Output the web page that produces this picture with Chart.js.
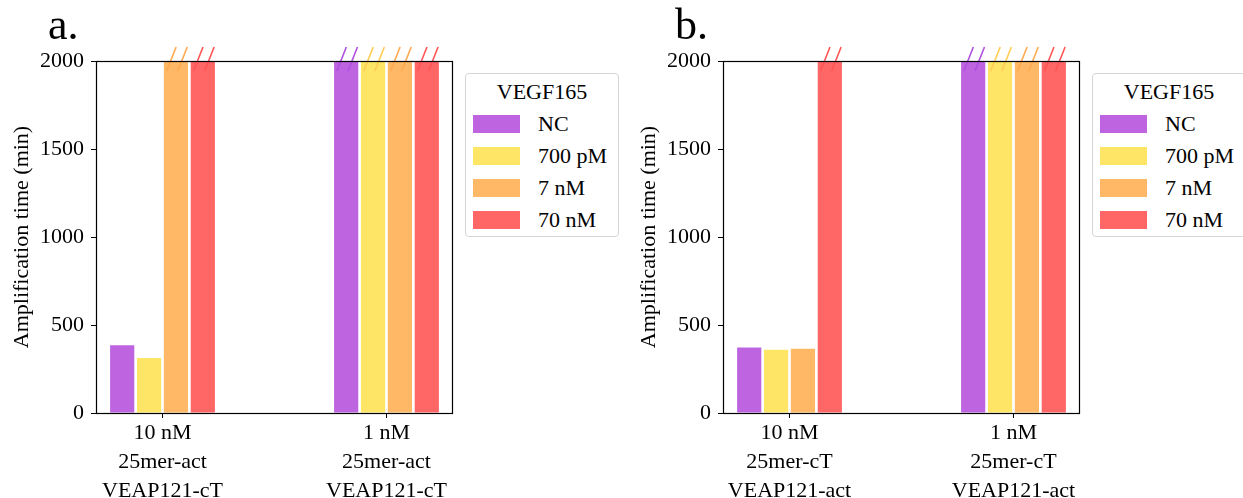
<!DOCTYPE html>
<html>
<head>
<meta charset="utf-8">
<script src="https://cdn.jsdelivr.net/npm/chart.js@4.4.1/dist/chart.umd.min.js"></script>
<style>
  body { margin: 0; background: #fff; width: 1243px; height: 498px; overflow: hidden; position: relative;
         font-family: "Liberation Serif", "DejaVu Serif", serif; color: #000; }
  .panel { position: absolute; top: 0; width: 470px; height: 498px; }
  .panel canvas { position: absolute; left: 0; top: 0; }
  .tag { position: absolute; left: 48px; top: 1px; font-size: 44px; line-height: 48px; }
  .legend { position: absolute; left: 465px; top: 73px; width: 152px; height: 162px;
            border: 1px solid #d6d6d6; border-radius: 4px; background: #fff; font-size: 22px; }
  .legend .ttl { text-align: center; margin-top: 2px; height: 32px; line-height: 32px; }
  .legend .row { height: 32px; display: flex; align-items: center; }
  .legend .sw { width: 47px; height: 18px; margin-left: 7px; margin-right: 18px; }
</style>
</head>
<body>
<div class="panel" style="left:0">
  <canvas id="chartA" width="470" height="498"></canvas>
  <div class="tag">a.</div>
  <div class="legend" id="legendA"></div>
</div>
<div class="panel" style="left:627px">
  <canvas id="chartB" width="470" height="498"></canvas>
  <div class="tag">b.</div>
  <div class="legend" id="legendB"></div>
</div>
<script>
// categories (x tick labels, one line per array entry)
const categoriesA = [['10 nM', '25mer-act', 'VEAP121-cT'], ['1 nM', '25mer-act', 'VEAP121-cT']];
const categoriesB = [['10 nM', '25mer-cT', 'VEAP121-act'], ['1 nM', '25mer-cT', 'VEAP121-act']];

// VEGF165 concentrations (legend)
const concentrations = ['NC', '700 pM', '7 nM', '70 nM'];

// amplification time (min); 2000 = no amplification within the run (axis break)
const ncA    = [385, 2000];
const pm700A = [312, 2000];
const nm7A   = [2000, 2000];
const nm70A  = [2000, 2000];

const ncB    = [372, 2000];
const pm700B = [360, 2000];
const nm7B   = [365, 2000];
const nm70B  = [2000, 2000];

const yTicks = [0, 500, 1000, 1500, 2000];

const barColors   = ['rgb(190,100,224)', 'rgb(255,229,102)', 'rgb(255,184,102)', 'rgb(255,102,102)'];
const breakColors = ['rgb(176,80,224)', 'rgb(255,205,80)', 'rgb(255,170,80)', 'rgb(255,85,85)'];

const FONT = '"Liberation Serif", "DejaVu Serif", serif';

// frame around the plot + "//" break marks above bars that hit the top
const frameAndBreaks = {
  id: 'frameAndBreaks',
  afterDatasetsDraw(chart) {
    const { ctx, scales } = chart;
    const yMax = scales.y.max;
    const top = scales.y.getPixelForValue(yMax);
    ctx.save();
    ctx.lineWidth = 1.6;
    chart.data.datasets.forEach((ds, i) => {
      const meta = chart.getDatasetMeta(i);
      meta.data.forEach((bar, j) => {
        if (ds.data[j].y < yMax) return;
        const left = bar.x - bar.width / 2;
        ctx.strokeStyle = breakColors[i];
        [0.28, 0.74].forEach(f => {
          const x0 = left + f * bar.width;
          ctx.beginPath();
          ctx.moveTo(x0 - 4, top + 10);
          ctx.lineTo(x0 + 5.5, top - 14);
          ctx.stroke();
        });
      });
    });
    ctx.restore();
  },
  afterDraw(chart) {
    const { ctx, chartArea } = chart;
    ctx.save();
    ctx.strokeStyle = '#000';
    ctx.lineWidth = 1.2;
    ctx.strokeRect(chartArea.left + 0.5, chartArea.top + 0.5,
      chartArea.right - chartArea.left - 1, chartArea.bottom - chartArea.top);
    ctx.restore();
  }
};

function buildLegend(id) {
  const box = document.getElementById(id);
  let html = '<div class="ttl">VEGF165</div>';
  concentrations.forEach((c, i) => {
    html += '<div class="row"><span class="sw" style="background:' + barColors[i] + '"></span>' + c + '</div>';
  });
  box.innerHTML = html;
}

function makeChart(canvasId, categories, series) {
  const ctx = document.getElementById(canvasId).getContext('2d');
  return new Chart(ctx, {
    type: 'bar',
    data: {
      datasets: series.map((vals, i) => ({
        label: concentrations[i],
        data: vals.map((v, k) => ({ x: k, y: v })),
        backgroundColor: barColors[i],
        borderWidth: 0,
        categoryPercentage: 0.48,
        barPercentage: 0.9
      }))
    },
    options: {
      responsive: false,
      animation: false,
      layout: { padding: { left: 0, top: 61, right: 17, bottom: 0 } },
      plugins: { legend: { display: false }, tooltip: { enabled: false } },
      scales: {
        x: {
          type: 'linear',
          offset: false,
          min: -0.297,
          max: 1.297,
          afterBuildTicks(scale) { scale.ticks = categories.map((c, k) => ({ value: k })); },
          afterFit(scale) { scale.height = 85; },
          border: { display: false },
          grid: { offset: false, drawOnChartArea: false, drawTicks: true, tickLength: 5, color: '#000', lineWidth: 1 },
          ticks: {
            padding: 1,
            color: '#000',
            font: { family: FONT, size: 22, lineHeight: 1.32 },
            callback: (v) => categories[v]
          }
        },
        y: {
          min: 0,
          max: 2000,
          afterBuildTicks(scale) { scale.ticks = yTicks.map(v => ({ value: v })); },
          afterFit(scale) { scale.width = 96; },
          border: { display: false },
          grid: { drawOnChartArea: false, drawTicks: true, tickLength: 5, color: '#000', lineWidth: 1 },
          ticks: { padding: 7, color: '#000', font: { family: FONT, size: 22 }, callback: (v) => String(v) },
          title: {
            display: true,
            text: 'Amplification time (min)',
            color: '#000',
            padding: { top: 9, bottom: 0 },
            font: { family: FONT, size: 22 }
          }
        }
      }
    },
    plugins: [frameAndBreaks]
  });
}

makeChart('chartA', categoriesA, [ncA, pm700A, nm7A, nm70A]);
makeChart('chartB', categoriesB, [ncB, pm700B, nm7B, nm70B]);
buildLegend('legendA');
buildLegend('legendB');
</script>
</body>
</html>
